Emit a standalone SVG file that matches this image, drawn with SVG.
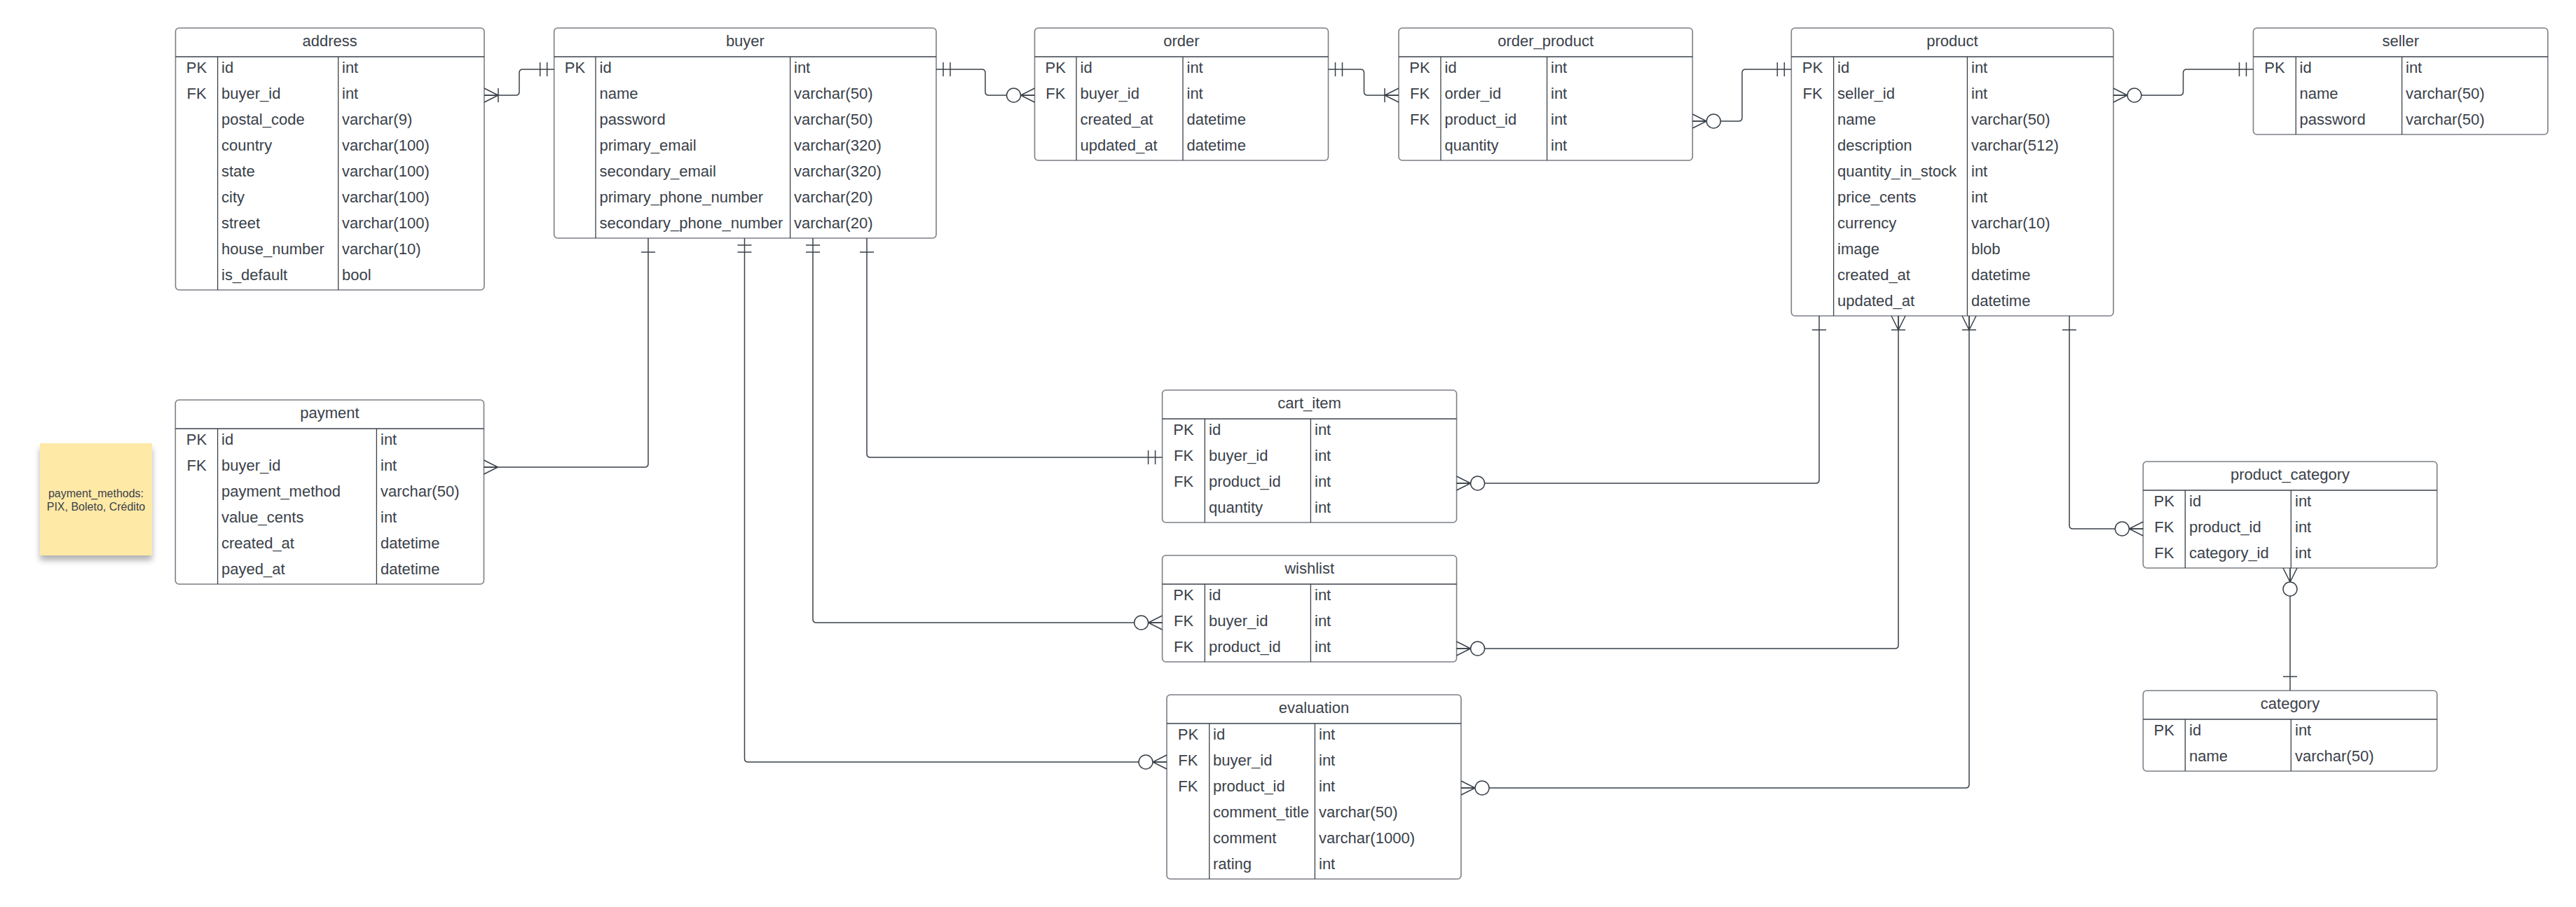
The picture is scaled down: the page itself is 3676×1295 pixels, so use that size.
<svg xmlns="http://www.w3.org/2000/svg" width="3676" height="1295" viewBox="0 0 3676 1295">
<style>
  .box { fill: #ffffff; stroke: #7b7f85; stroke-width: 1.6; }
  .sep { stroke: #3a414a; stroke-width: 1.3; }
  .t { font-family: "Liberation Sans", Arial, sans-serif; font-size: 22px; fill: #3a414a; }
  .ttl { text-anchor: middle; }
  .k { text-anchor: middle; }
  .conn { fill: none; stroke: #3a414a; stroke-width: 1.5; }
  .note { font-family: "Liberation Sans", Arial, sans-serif; font-size: 16px; fill: #3a414a; text-anchor: middle; }
</style>
<defs>
  <marker id="onlyOne" markerUnits="userSpaceOnUse" markerWidth="50" markerHeight="50" refX="0" refY="0" orient="auto-start-reverse" overflow="visible">
    <path d="M-10,-10 V10 M-20,-10 V10" fill="none" stroke="#3a414a" stroke-width="1.5"/>
  </marker>
  <marker id="one" markerUnits="userSpaceOnUse" markerWidth="50" markerHeight="50" refX="0" refY="0" orient="auto-start-reverse" overflow="visible">
    <path d="M-20,-10 V10" fill="none" stroke="#3a414a" stroke-width="1.5"/>
  </marker>
  <marker id="many" markerUnits="userSpaceOnUse" markerWidth="50" markerHeight="50" refX="0" refY="0" orient="auto-start-reverse" overflow="visible">
    <path d="M0,-10 L-20,0 L0,10 M0,0 H-20" fill="none" stroke="#3a414a" stroke-width="1.5"/>
  </marker>
  <marker id="oneMany" markerUnits="userSpaceOnUse" markerWidth="50" markerHeight="50" refX="0" refY="0" orient="auto-start-reverse" overflow="visible">
    <path d="M0,-10 L-20,0 L0,10 M0,0 H-20 M-20,-10 V10" fill="none" stroke="#3a414a" stroke-width="1.5"/>
  </marker>
  <marker id="zeroMany" markerUnits="userSpaceOnUse" markerWidth="50" markerHeight="50" refX="0" refY="0" orient="auto-start-reverse" overflow="visible">
    <path d="M0,-10 L-20,0 L0,10 M0,0 H-20" fill="none" stroke="#3a414a" stroke-width="1.5"/>
    <circle cx="-30" cy="0" r="10" fill="#ffffff" stroke="#3a414a" stroke-width="1.5"/>
  </marker>
  <filter id="shadow" x="-20%" y="-20%" width="140%" height="150%">
    <feDropShadow dx="0" dy="7" stdDeviation="4" flood-color="#000000" flood-opacity="0.3"/>
  </filter>
</defs>
<rect x="0" y="0" width="3676" height="1295" fill="#ffffff"/>

<g id="note-payment-methods">
  <rect x="57" y="633" width="160" height="160" fill="#ffe9a6" filter="url(#shadow)"/>
  <text class="note" x="137" y="710">payment_methods:</text>
  <text class="note" x="137" y="729">PIX, Boleto, Crédito</text>
</g>

<g id="address">
  <rect class="box" x="250.5" y="40" width="440.5" height="374" rx="5"/>
  <line class="sep" x1="250.5" y1="81" x2="691" y2="81"/>
  <line class="sep" x1="310.6" y1="81" x2="310.6" y2="414"/>
  <line class="sep" x1="482.7" y1="81" x2="482.7" y2="414"/>
  <text class="t ttl" x="470.7" y="66">address</text>
  <text class="t k" x="280.5" y="104">PK</text><text class="t" x="316" y="104">id</text><text class="t" x="488" y="104">int</text>
  <text class="t k" x="280.5" y="141">FK</text><text class="t" x="316" y="141">buyer_id</text><text class="t" x="488" y="141">int</text>
  <text class="t" x="316" y="178">postal_code</text><text class="t" x="488" y="178">varchar(9)</text>
  <text class="t" x="316" y="215">country</text><text class="t" x="488" y="215">varchar(100)</text>
  <text class="t" x="316" y="252">state</text><text class="t" x="488" y="252">varchar(100)</text>
  <text class="t" x="316" y="289">city</text><text class="t" x="488" y="289">varchar(100)</text>
  <text class="t" x="316" y="326">street</text><text class="t" x="488" y="326">varchar(100)</text>
  <text class="t" x="316" y="363">house_number</text><text class="t" x="488" y="363">varchar(10)</text>
  <text class="t" x="316" y="400">is_default</text><text class="t" x="488" y="400">bool</text>
</g>

<g id="buyer">
  <rect class="box" x="790.7" y="40" width="545.3" height="300" rx="5"/>
  <line class="sep" x1="790.7" y1="81" x2="1336" y2="81"/>
  <line class="sep" x1="850" y1="81" x2="850" y2="340"/>
  <line class="sep" x1="1127.6" y1="81" x2="1127.6" y2="340"/>
  <text class="t ttl" x="1063.4" y="66">buyer</text>
  <text class="t k" x="820.4" y="104">PK</text><text class="t" x="855.5" y="104">id</text><text class="t" x="1133" y="104">int</text>
  <text class="t" x="855.5" y="141">name</text><text class="t" x="1133" y="141">varchar(50)</text>
  <text class="t" x="855.5" y="178">password</text><text class="t" x="1133" y="178">varchar(50)</text>
  <text class="t" x="855.5" y="215">primary_email</text><text class="t" x="1133" y="215">varchar(320)</text>
  <text class="t" x="855.5" y="252">secondary_email</text><text class="t" x="1133" y="252">varchar(320)</text>
  <text class="t" x="855.5" y="289">primary_phone_number</text><text class="t" x="1133" y="289">varchar(20)</text>
  <text class="t" x="855.5" y="326">secondary_phone_number</text><text class="t" x="1133" y="326">varchar(20)</text>
</g>

<g id="order">
  <rect class="box" x="1476.5" y="40" width="419" height="189" rx="5"/>
  <line class="sep" x1="1476.5" y1="81" x2="1895.5" y2="81"/>
  <line class="sep" x1="1536" y1="81" x2="1536" y2="229"/>
  <line class="sep" x1="1688" y1="81" x2="1688" y2="229"/>
  <text class="t ttl" x="1686" y="66">order</text>
  <text class="t k" x="1506.3" y="104">PK</text><text class="t" x="1541.5" y="104">id</text><text class="t" x="1693.5" y="104">int</text>
  <text class="t k" x="1506.3" y="141">FK</text><text class="t" x="1541.5" y="141">buyer_id</text><text class="t" x="1693.5" y="141">int</text>
  <text class="t" x="1541.5" y="178">created_at</text><text class="t" x="1693.5" y="178">datetime</text>
  <text class="t" x="1541.5" y="215">updated_at</text><text class="t" x="1693.5" y="215">datetime</text>
</g>

<g id="order_product">
  <rect class="box" x="1996" y="40" width="419.3" height="189" rx="5"/>
  <line class="sep" x1="1996" y1="81" x2="2415.3" y2="81"/>
  <line class="sep" x1="2056" y1="81" x2="2056" y2="229"/>
  <line class="sep" x1="2207.6" y1="81" x2="2207.6" y2="229"/>
  <text class="t ttl" x="2205.7" y="66">order_product</text>
  <text class="t k" x="2026" y="104">PK</text><text class="t" x="2061.5" y="104">id</text><text class="t" x="2213" y="104">int</text>
  <text class="t k" x="2026" y="141">FK</text><text class="t" x="2061.5" y="141">order_id</text><text class="t" x="2213" y="141">int</text>
  <text class="t k" x="2026" y="178">FK</text><text class="t" x="2061.5" y="178">product_id</text><text class="t" x="2213" y="178">int</text>
  <text class="t" x="2061.5" y="215">quantity</text><text class="t" x="2213" y="215">int</text>
</g>

<g id="product">
  <rect class="box" x="2556.3" y="40" width="459.5" height="411" rx="5"/>
  <line class="sep" x1="2556.3" y1="81" x2="3015.8" y2="81"/>
  <line class="sep" x1="2616.6" y1="81" x2="2616.6" y2="451"/>
  <line class="sep" x1="2807.4" y1="81" x2="2807.4" y2="451"/>
  <text class="t ttl" x="2786" y="66">product</text>
  <text class="t k" x="2586.5" y="104">PK</text><text class="t" x="2622" y="104">id</text><text class="t" x="2813" y="104">int</text>
  <text class="t k" x="2586.5" y="141">FK</text><text class="t" x="2622" y="141">seller_id</text><text class="t" x="2813" y="141">int</text>
  <text class="t" x="2622" y="178">name</text><text class="t" x="2813" y="178">varchar(50)</text>
  <text class="t" x="2622" y="215">description</text><text class="t" x="2813" y="215">varchar(512)</text>
  <text class="t" x="2622" y="252">quantity_in_stock</text><text class="t" x="2813" y="252">int</text>
  <text class="t" x="2622" y="289">price_cents</text><text class="t" x="2813" y="289">int</text>
  <text class="t" x="2622" y="326">currency</text><text class="t" x="2813" y="326">varchar(10)</text>
  <text class="t" x="2622" y="363">image</text><text class="t" x="2813" y="363">blob</text>
  <text class="t" x="2622" y="400">created_at</text><text class="t" x="2813" y="400">datetime</text>
  <text class="t" x="2622" y="437">updated_at</text><text class="t" x="2813" y="437">datetime</text>
</g>

<g id="seller">
  <rect class="box" x="3215.5" y="40" width="420.3" height="152" rx="5"/>
  <line class="sep" x1="3215.5" y1="81" x2="3635.8" y2="81"/>
  <line class="sep" x1="3276.3" y1="81" x2="3276.3" y2="192"/>
  <line class="sep" x1="3427.6" y1="81" x2="3427.6" y2="192"/>
  <text class="t ttl" x="3425.7" y="66">seller</text>
  <text class="t k" x="3246" y="104">PK</text><text class="t" x="3281.5" y="104">id</text><text class="t" x="3433" y="104">int</text>
  <text class="t" x="3281.5" y="141">name</text><text class="t" x="3433" y="141">varchar(50)</text>
  <text class="t" x="3281.5" y="178">password</text><text class="t" x="3433" y="178">varchar(50)</text>
</g>

<g id="payment">
  <rect class="box" x="250.3" y="571" width="440.2" height="263" rx="5"/>
  <line class="sep" x1="250.3" y1="612" x2="690.5" y2="612"/>
  <line class="sep" x1="310.6" y1="612" x2="310.6" y2="834"/>
  <line class="sep" x1="537.4" y1="612" x2="537.4" y2="834"/>
  <text class="t ttl" x="470.4" y="597">payment</text>
  <text class="t k" x="280.5" y="635">PK</text><text class="t" x="316" y="635">id</text><text class="t" x="543" y="635">int</text>
  <text class="t k" x="280.5" y="672">FK</text><text class="t" x="316" y="672">buyer_id</text><text class="t" x="543" y="672">int</text>
  <text class="t" x="316" y="709">payment_method</text><text class="t" x="543" y="709">varchar(50)</text>
  <text class="t" x="316" y="746">value_cents</text><text class="t" x="543" y="746">int</text>
  <text class="t" x="316" y="783">created_at</text><text class="t" x="543" y="783">datetime</text>
  <text class="t" x="316" y="820">payed_at</text><text class="t" x="543" y="820">datetime</text>
</g>

<g id="cart_item">
  <rect class="box" x="1658.6" y="557" width="420" height="189" rx="5"/>
  <line class="sep" x1="1658.6" y1="598" x2="2078.6" y2="598"/>
  <line class="sep" x1="1719.3" y1="598" x2="1719.3" y2="746"/>
  <line class="sep" x1="1870.4" y1="598" x2="1870.4" y2="746"/>
  <text class="t ttl" x="1868.6" y="583">cart_item</text>
  <text class="t k" x="1689" y="621">PK</text><text class="t" x="1725" y="621">id</text><text class="t" x="1876" y="621">int</text>
  <text class="t k" x="1689" y="658">FK</text><text class="t" x="1725" y="658">buyer_id</text><text class="t" x="1876" y="658">int</text>
  <text class="t k" x="1689" y="695">FK</text><text class="t" x="1725" y="695">product_id</text><text class="t" x="1876" y="695">int</text>
  <text class="t" x="1725" y="732">quantity</text><text class="t" x="1876" y="732">int</text>
</g>

<g id="wishlist">
  <rect class="box" x="1658.6" y="793" width="420" height="152" rx="5"/>
  <line class="sep" x1="1658.6" y1="834" x2="2078.6" y2="834"/>
  <line class="sep" x1="1719.3" y1="834" x2="1719.3" y2="945"/>
  <line class="sep" x1="1870.4" y1="834" x2="1870.4" y2="945"/>
  <text class="t ttl" x="1868.6" y="819">wishlist</text>
  <text class="t k" x="1689" y="857">PK</text><text class="t" x="1725" y="857">id</text><text class="t" x="1876" y="857">int</text>
  <text class="t k" x="1689" y="894">FK</text><text class="t" x="1725" y="894">buyer_id</text><text class="t" x="1876" y="894">int</text>
  <text class="t k" x="1689" y="931">FK</text><text class="t" x="1725" y="931">product_id</text><text class="t" x="1876" y="931">int</text>
</g>

<g id="evaluation">
  <rect class="box" x="1665" y="992" width="420" height="263" rx="5"/>
  <line class="sep" x1="1665" y1="1033" x2="2085" y2="1033"/>
  <line class="sep" x1="1725.7" y1="1033" x2="1725.7" y2="1255"/>
  <line class="sep" x1="1876.4" y1="1033" x2="1876.4" y2="1255"/>
  <text class="t ttl" x="1875" y="1018">evaluation</text>
  <text class="t k" x="1695.4" y="1056">PK</text><text class="t" x="1731" y="1056">id</text><text class="t" x="1882" y="1056">int</text>
  <text class="t k" x="1695.4" y="1093">FK</text><text class="t" x="1731" y="1093">buyer_id</text><text class="t" x="1882" y="1093">int</text>
  <text class="t k" x="1695.4" y="1130">FK</text><text class="t" x="1731" y="1130">product_id</text><text class="t" x="1882" y="1130">int</text>
  <text class="t" x="1731" y="1167">comment_title</text><text class="t" x="1882" y="1167">varchar(50)</text>
  <text class="t" x="1731" y="1204">comment</text><text class="t" x="1882" y="1204">varchar(1000)</text>
  <text class="t" x="1731" y="1241">rating</text><text class="t" x="1882" y="1241">int</text>
</g>

<g id="product_category">
  <rect class="box" x="3058.3" y="659" width="419.4" height="152" rx="5"/>
  <line class="sep" x1="3058.3" y1="700" x2="3477.7" y2="700"/>
  <line class="sep" x1="3118.3" y1="700" x2="3118.3" y2="811"/>
  <line class="sep" x1="3269.3" y1="700" x2="3269.3" y2="811"/>
  <text class="t ttl" x="3268" y="685">product_category</text>
  <text class="t k" x="3088.3" y="723">PK</text><text class="t" x="3124" y="723">id</text><text class="t" x="3275" y="723">int</text>
  <text class="t k" x="3088.3" y="760">FK</text><text class="t" x="3124" y="760">product_id</text><text class="t" x="3275" y="760">int</text>
  <text class="t k" x="3088.3" y="797">FK</text><text class="t" x="3124" y="797">category_id</text><text class="t" x="3275" y="797">int</text>
</g>

<g id="category">
  <rect class="box" x="3058.3" y="986" width="419.4" height="115" rx="5"/>
  <line class="sep" x1="3058.3" y1="1027" x2="3477.7" y2="1027"/>
  <line class="sep" x1="3118.3" y1="1027" x2="3118.3" y2="1101"/>
  <line class="sep" x1="3269.3" y1="1027" x2="3269.3" y2="1101"/>
  <text class="t ttl" x="3268" y="1012">category</text>
  <text class="t k" x="3088.3" y="1050">PK</text><text class="t" x="3124" y="1050">id</text><text class="t" x="3275" y="1050">int</text>
  <text class="t" x="3124" y="1087">name</text><text class="t" x="3275" y="1087">varchar(50)</text>
</g>

<g id="connectors">
  <path class="conn" d="M790.7,99 H746 Q741,99 741,104 V131 Q741,136 736,136 H691" marker-start="url(#onlyOne)" marker-end="url(#oneMany)"/>
  <path class="conn" d="M1336,99 H1401 Q1406,99 1406,104 V131 Q1406,136 1411,136 H1476.5" marker-start="url(#onlyOne)" marker-end="url(#zeroMany)"/>
  <path class="conn" d="M1895.5,99 H1941.5 Q1946.5,99 1946.5,104 V131 Q1946.5,136 1951.5,136 H1996" marker-start="url(#onlyOne)" marker-end="url(#oneMany)"/>
  <path class="conn" d="M2556.3,99 H2491 Q2486,99 2486,104 V168 Q2486,173 2481,173 H2415.3" marker-start="url(#onlyOne)" marker-end="url(#zeroMany)"/>
  <path class="conn" d="M3215.5,99 H3120.5 Q3115.5,99 3115.5,104 V131 Q3115.5,136 3110.5,136 H3015.8" marker-start="url(#onlyOne)" marker-end="url(#zeroMany)"/>
  <path class="conn" d="M925,340 V662 Q925,667 920,667 H690.5" marker-start="url(#one)" marker-end="url(#many)"/>
  <path class="conn" d="M1237,340 V648 Q1237,653 1242,653 H1658.6" marker-start="url(#one)" marker-end="url(#onlyOne)"/>
  <path class="conn" d="M1160,340 V884 Q1160,889 1165,889 H1658.6" marker-start="url(#onlyOne)" marker-end="url(#zeroMany)"/>
  <path class="conn" d="M1062.5,340 V1083 Q1062.5,1088 1067.5,1088 H1665" marker-start="url(#onlyOne)" marker-end="url(#zeroMany)"/>
  <path class="conn" d="M2596,451 V685 Q2596,690 2591,690 H2078.6" marker-start="url(#one)" marker-end="url(#zeroMany)"/>
  <path class="conn" d="M2709,451 V921 Q2709,926 2704,926 H2078.6" marker-start="url(#oneMany)" marker-end="url(#zeroMany)"/>
  <path class="conn" d="M2810,451 V1120 Q2810,1125 2805,1125 H2085" marker-start="url(#oneMany)" marker-end="url(#zeroMany)"/>
  <path class="conn" d="M2953,451 V750 Q2953,755 2958,755 H3058.3" marker-start="url(#one)" marker-end="url(#zeroMany)"/>
  <path class="conn" d="M3268,986 V811" marker-start="url(#one)" marker-end="url(#zeroMany)"/>
</g>
</svg>
